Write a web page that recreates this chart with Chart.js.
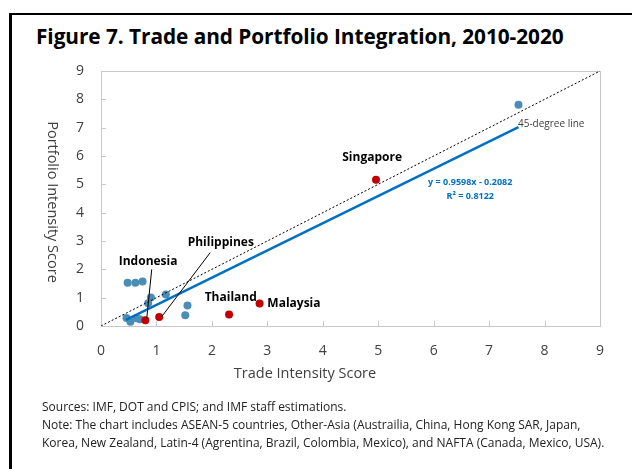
<!DOCTYPE html>
<html>
<head>
<meta charset="utf-8">
<script src="https://cdn.jsdelivr.net/npm/chart.js@4.4.1/dist/chart.umd.min.js"></script>
<style>
    html, body { margin: 0; padding: 0; background: #fff; }
    body { width: 632px; height: 469px; position: relative; overflow: hidden; font-family: "Open Sans", "Noto Sans", sans-serif; }
    #frame { position: absolute; left: 9px; top: 13px; right: 0; bottom: 0; border-top: 2px solid #000; border-left: 3px solid #000; }
    #title { position: absolute; left: 36px; top: 22px; font-size: 20.8px; font-weight: 700; color: #000; white-space: nowrap; letter-spacing: -0.05px; }
    #notes { position: absolute; left: 42px; top: 398px; font-size: 12px; line-height: 18px; color: #222; white-space: nowrap; }
    canvas { position: absolute; left: 0; top: 0; }
</style>
</head>
<body>
<div id="frame"></div>
<div id="title">Figure 7. Trade and Portfolio Integration, 2010-2020</div>
<canvas id="chart" width="632" height="469"></canvas>
<div id="notes">
    Sources: IMF, DOT and CPIS; and IMF staff estimations.<br>
    Note: The chart includes ASEAN-5 countries, Other-Asia (Austrailia, China, Hong Kong SAR, Japan,<br>
    Korea, New Zealand, Latin-4 (Agrentina, Brazil, Colombia, Mexico), and NAFTA (Canada, Mexico, USA).
</div>
<script>
// ================================================================
// DATA
// ================================================================

// other economies (blue markers): trade / portfolio intensity
const otherTrade     = [0.46, 0.53, 0.64, 0.70, 0.48, 0.62, 0.75, 0.85, 0.90, 1.17, 1.56, 1.52, 7.53];
const otherPortfolio = [0.28, 0.15, 0.27, 0.24, 1.53, 1.53, 1.57, 0.80, 1.01, 1.11, 0.72, 0.38, 7.81];

// ASEAN-5 (red markers)
const aseanNames     = ['Indonesia', 'Philippines', 'Thailand', 'Malaysia', 'Singapore'];
const aseanTrade     = [0.80, 1.05, 2.31, 2.86, 4.96];
const aseanPortfolio = [0.20, 0.32, 0.41, 0.79, 5.16];

// linear trend (y = 0.9598x - 0.2082), end points
const trendX = [0.45, 7.53];
const trendY = [0.22, 7.02];

// 45-degree reference line
const diagX = [0, 9];
const diagY = [0, 9];

const xTicks = [0, 1, 2, 3, 4, 5, 6, 7, 8, 9];
const yTicks = [0, 1, 2, 3, 4, 5, 6, 7, 8, 9];

const equationText = ['y = 0.9598x - 0.2082', 'R\u00B2 = 0.8122'];

// ================================================================
// ANNOTATIONS (data units)
// ================================================================

const COUNTRY_LABELS = [
    { text: 'Indonesia',   x: 0.85, y: 2.26, align: 'center' },
    { text: 'Philippines', x: 2.16, y: 2.93, align: 'center' },
    { text: 'Thailand',    x: 2.34, y: 0.99, align: 'center' },
    { text: 'Malaysia',    x: 3.00, y: 0.80, align: 'left' },
    { text: 'Singapore',   x: 4.89, y: 5.93, align: 'center' }
];

const LEADERS = [
    { from: [0.915, 2.00], to: [0.825, 0.27] },
    { from: [1.97, 2.59],  to: [1.095, 0.33] }
];

const COLORS = {
    other: '#4A8DB6',
    asean: '#C00000',
    trend: '#0070C0',
    text: '#404040',
    axis: '#C8C8C8'
};

const FONT = '"Open Sans", "Noto Sans", sans-serif';

function toPoints(xs, ys) {
    return xs.map((x, i) => ({ x: x, y: ys[i] }));
}

// ================================================================
// DECORATION PLUGIN
// ================================================================

const decorPlugin = {
    id: 'decor',
    beforeDatasetsDraw(chart) {
        const { ctx, chartArea: a, scales: { x, y } } = chart;
        ctx.save();
        ctx.strokeStyle = COLORS.axis;
        ctx.lineWidth = 1;
        ctx.strokeRect(a.left + 0.5, a.top + 0.5, a.right - a.left, a.bottom - a.top);
        ctx.beginPath();
        yTicks.forEach(v => {
            const py = Math.round(y.getPixelForValue(v)) + 0.5;
            ctx.moveTo(a.left, py);
            ctx.lineTo(a.left + 5, py);
        });
        xTicks.forEach(v => {
            const px = Math.round(x.getPixelForValue(v)) + 0.5;
            ctx.moveTo(px, a.bottom);
            ctx.lineTo(px, a.bottom - 5);
        });
        ctx.stroke();

        // axis titles
        ctx.fillStyle = COLORS.text;
        ctx.font = '14.5px ' + FONT;
        ctx.textAlign = 'center';
        ctx.textBaseline = 'middle';
        ctx.fillText('Trade Intensity Score', 305, 374);
        ctx.translate(52, 202);
        ctx.rotate(Math.PI / 2);
        ctx.fillText('Portfolio Intensity Score', 0, 0);
        ctx.restore();
    },
    afterDatasetsDraw(chart) {
        const { ctx, scales: { x, y } } = chart;
        ctx.save();

        // leader lines
        ctx.strokeStyle = '#000';
        ctx.lineWidth = 1;
        LEADERS.forEach(l => {
            ctx.beginPath();
            ctx.moveTo(x.getPixelForValue(l.from[0]), y.getPixelForValue(l.from[1]));
            ctx.lineTo(x.getPixelForValue(l.to[0]), y.getPixelForValue(l.to[1]));
            ctx.stroke();
        });

        // country labels
        ctx.fillStyle = '#000';
        ctx.font = 'bold 12px ' + FONT;
        ctx.textBaseline = 'middle';
        COUNTRY_LABELS.forEach(l => {
            ctx.textAlign = l.align;
            ctx.fillText(l.text, x.getPixelForValue(l.x), y.getPixelForValue(l.y));
        });

        // 45-degree line label
        ctx.fillStyle = COLORS.text;
        ctx.font = '10px ' + FONT;
        ctx.textAlign = 'left';
        ctx.fillText('45-degree line', x.getPixelForValue(7.52), y.getPixelForValue(7.13));

        // trend equation
        ctx.fillStyle = COLORS.trend;
        ctx.font = 'bold 9px ' + FONT;
        ctx.textAlign = 'center';
        ctx.fillText(equationText[0], x.getPixelForValue(6.66), y.getPixelForValue(5.05));
        ctx.fillText(equationText[1], x.getPixelForValue(6.66), y.getPixelForValue(4.57));
        ctx.restore();
    }
};

// ================================================================
// CHART
// ================================================================

new Chart(document.getElementById('chart').getContext('2d'), {
    type: 'scatter',
    data: {
        datasets: [
            {
                label: '45-degree line',
                type: 'line',
                data: toPoints(diagX, diagY),
                borderColor: '#000',
                borderWidth: 1,
                borderDash: [2, 2],
                pointRadius: 0,
                fill: false
            },
            {
                label: 'Trend',
                type: 'line',
                data: toPoints(trendX, trendY),
                borderColor: COLORS.trend,
                borderWidth: 2.5,
                pointRadius: 0,
                fill: false
            },
            {
                label: 'ASEAN-5',
                data: toPoints(aseanTrade, aseanPortfolio),
                backgroundColor: COLORS.asean,
                borderWidth: 0,
                pointRadius: 4
            },
            {
                label: 'Others',
                data: toPoints(otherTrade, otherPortfolio),
                backgroundColor: COLORS.other,
                borderWidth: 0,
                pointRadius: 4
            }
        ]
    },
    options: {
        responsive: false,
        animation: false,
        layout: { padding: { left: 0, top: 71, right: 32, bottom: 0 } },
        plugins: {
            legend: { display: false },
            tooltip: { enabled: false }
        },
        scales: {
            x: {
                type: 'linear',
                min: 0,
                max: 9,
                afterBuildTicks: s => { s.ticks = xTicks.map(v => ({ value: v })); },
                afterFit: s => { s.height = 143; },
                grid: { display: false, drawTicks: false },
                border: { display: false },
                ticks: { padding: 17, color: COLORS.text, font: { family: FONT, size: 14 } }
            },
            y: {
                type: 'linear',
                min: 0,
                max: 9,
                afterBuildTicks: s => { s.ticks = yTicks.map(v => ({ value: v })); },
                afterFit: s => { s.width = 101; },
                grid: { display: false, drawTicks: false },
                border: { display: false },
                ticks: { padding: 17, color: COLORS.text, font: { family: FONT, size: 14 } }
            }
        }
    },
    plugins: [decorPlugin]
});
</script>
</body>
</html>
